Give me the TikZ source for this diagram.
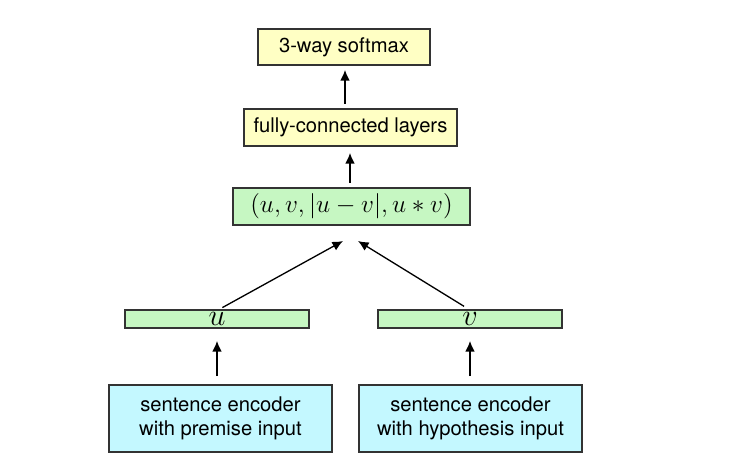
\documentclass[tikz,border=0pt]{standalone}
\usepackage{amsmath}
\usepackage{fontspec}
\setsansfont{TeX Gyre Heros}
\usetikzlibrary{arrows.meta}
\usepackage{xcolor}
\definecolor{myyellow}{HTML}{FFFFC4}
\definecolor{mygreen}{HTML}{C6F7C2}
\definecolor{mycyan}{HTML}{C4F8FF}
\colorlet{myborder}{black!80}
\tikzset{
  >=latex, % default arrow head
  box/.style={draw=myborder,line width=0.6pt,inner sep=1,outer sep=0,
    font=\sffamily\fontsize{11.5}{14}\selectfont,align=center},
  box out/.style={box,fill=myyellow,minimum height=0.72cm},
  box vec/.style={box,fill=mygreen,minimum height=0.74cm,minimum width=4.74cm},
  box emb/.style={box,fill=mygreen,minimum height=0.36cm,minimum width=3.68cm,inner sep=0},
  box enc/.style={box,fill=mycyan,minimum height=1.34cm,minimum width=4.46cm},
  connect arrow/.style={-{Latex[length=6pt,width=5.5pt]},line width=0.75pt,black}
}
\begin{document}
\begin{tikzpicture}
    \useasboundingbox (0,0) rectangle (14.64,9.32);
    \node[box out,minimum width=3.44cm] (sm) at (6.88,8.38) {3-way softmax};
    \node[box out,minimum width=4.26cm,minimum height=0.74cm] (fc) at (7.01,6.77) {fully-connected layers};
    \node[box vec] (cat) at (7.03,5.19) {\fontsize{14}{14}\selectfont $(u,v,|u-v|,u*v)$};
    \node[box emb] (u) at (4.34,2.94) {\fontsize{16}{16}\selectfont $u$};
    \node[box emb] (v) at (9.40,2.94) {\fontsize{16}{16}\selectfont $v$};
    \node[box enc] (encp) at (4.41,0.95) {sentence encoder\\with premise input};
    \node[box enc] (ench) at (9.41,0.95) {sentence encoder\\with hypothesis input};
    \coordinate (inl) at (6.86,4.50);
    \coordinate (inr) at (7.16,4.50);
    \draw[connect arrow,shorten <=0.1cm,shorten >=0.1cm] (fc.north -| 6.90,0) -- (sm.south -| 6.90,0);
    \draw[connect arrow,shorten <=0.1cm,shorten >=0.14cm] (cat.north -| 7.00,0) -- (fc.south -| 7.00,0);
    \draw[connect arrow,shorten <=0.1cm] ([xshift=0.02cm]u.north) -- (inl);
    \draw[connect arrow,shorten <=0.14cm] (v.north) -- (inr);
    \draw[connect arrow,shorten <=0.18cm,shorten >=0.26cm] (encp.north -| u.south) -- (u.south);
    \draw[connect arrow,shorten <=0.18cm,shorten >=0.26cm] (ench.north -| v.south) -- (v.south);
\end{tikzpicture}
\end{document}
